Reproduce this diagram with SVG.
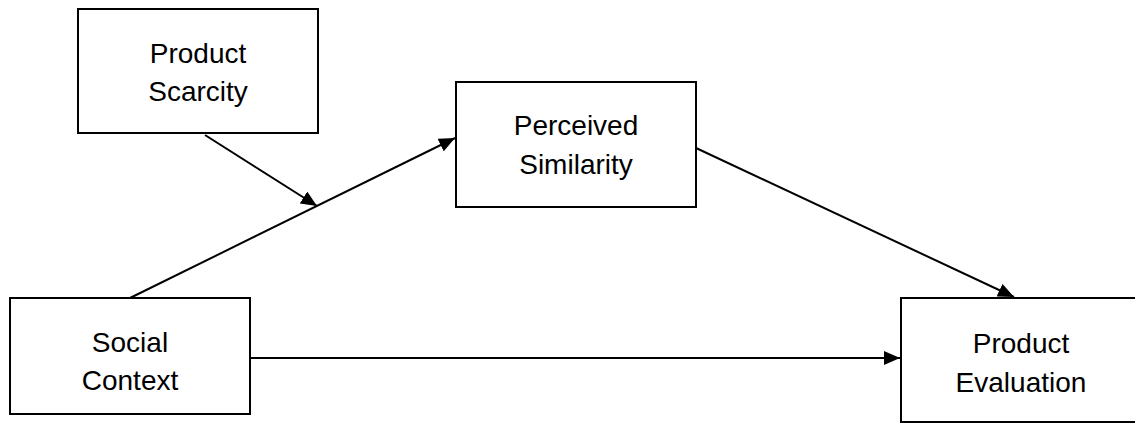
<svg xmlns="http://www.w3.org/2000/svg" width="1135" height="425" viewBox="0 0 1135 425">
<style>
.box{fill:#fff;stroke:#000;stroke-width:2}
.lbl{font-family:"Liberation Sans",Arial,sans-serif;font-size:28px;fill:#000;text-anchor:middle}
.edge{stroke:#000;stroke-width:2;fill:none}
</style>
<defs>
<marker id="arr" viewBox="0 0 16 14" refX="16" refY="7" markerWidth="16" markerHeight="14" markerUnits="userSpaceOnUse" orient="auto">
<path d="M0,0 L16,7 L0,14 z" fill="#000"/>
</marker>
</defs>
<rect width="1135" height="425" fill="#fff"/>
<g id="connectors">
<line class="edge" x1="130" y1="298" x2="455" y2="138" marker-end="url(#arr)"/>
<line class="edge" x1="205" y1="135" x2="317" y2="206" marker-end="url(#arr)"/>
<line class="edge" x1="696" y1="148" x2="1014" y2="297" marker-end="url(#arr)"/>
<line class="edge" x1="250" y1="358" x2="900" y2="358" marker-end="url(#arr)"/>
</g>
<g id="product-scarcity">
<rect class="box" x="78" y="9" width="240" height="124"/>
<text class="lbl" x="198" y="63">Product</text>
<text class="lbl" x="198" y="101">Scarcity</text>
</g>
<g id="perceived-similarity">
<rect class="box" x="456" y="82" width="240" height="125"/>
<text class="lbl" x="576" y="135">Perceived</text>
<text class="lbl" x="576" y="174">Similarity</text>
</g>
<g id="social-context">
<rect class="box" x="10" y="298" width="240" height="116"/>
<text class="lbl" x="130" y="352">Social</text>
<text class="lbl" x="130" y="390">Context</text>
</g>
<g id="product-evaluation">
<rect class="box" x="901" y="298" width="240" height="124"/>
<text class="lbl" x="1021" y="353">Product</text>
<text class="lbl" x="1021" y="392">Evaluation</text>
</g>
</svg>
